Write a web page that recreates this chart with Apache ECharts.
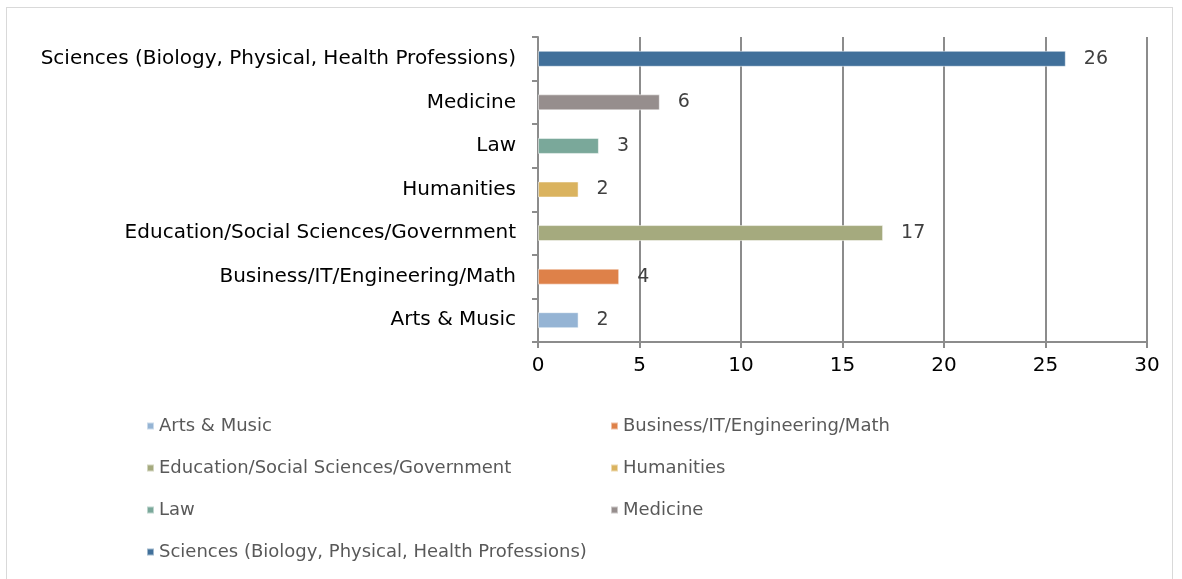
<!DOCTYPE html>
<html>
<head>
<meta charset="utf-8">
<script src="https://cdn.jsdelivr.net/npm/echarts@6/dist/echarts.min.js"></script>
<style>
  html, body { margin: 0; padding: 0; background: #fff; overflow: hidden; }
  #frame { position: absolute; left: 6px; top: 7px; width: 1165px; height: 620px; border: 1px solid #d9d9d9; }
  #chart { position: absolute; left: 0; top: 0; width: 1182px; height: 579px; }
</style>
</head>
<body>
<div id="frame"></div>
<div id="chart"></div>
<script>
// categories, bottom to top as drawn
const categories = [
  "Arts & Music",
  "Business/IT/Engineering/Math",
  "Education/Social Sciences/Government",
  "Humanities",
  "Law",
  "Medicine",
  "Sciences (Biology, Physical, Health Professions)"
];
const counts = [2, 4, 17, 2, 3, 6, 26];
const colors = ["#95B4D4", "#DE8149", "#A5AA7E", "#DAB35F", "#7AA89A", "#968E8D", "#41709A"];
const xTicks = [0, 5, 10, 15, 20, 25, 30];

const legendLeft = [categories[0], categories[2], categories[4], categories[6]];
const legendRight = [categories[1], categories[3], categories[5]];

const FONT = "'DejaVu Sans', sans-serif";

// one series per category so each gets its own legend entry
const series = categories.map((name, i) => ({
  name: name,
  type: "bar",
  stack: "all",
  barWidth: 16,
  itemStyle: { color: colors[i], borderColor: "rgba(255,255,255,0.5)", borderWidth: 1 },
  label: {
    show: true,
    position: "right",
    distance: 18,
    color: "#404040",
    fontSize: 19,
    fontFamily: FONT
  },
  data: categories.map((c, j) => (j === i ? counts[i] : "-"))
}));

const legendCommon = {
  orient: "vertical",
  icon: "rect",
  itemWidth: 7,
  itemHeight: 7,
  itemGap: 22,
  selectedMode: false,
  textStyle: { color: "#595959", fontSize: 18, lineHeight: 20, fontFamily: FONT }
};

const chart = echarts.init(document.getElementById("chart"));
chart.setOption({
  animation: false,
  textStyle: { fontFamily: FONT },
  grid: { left: 538, right: 35, top: 37, bottom: 237, containLabel: false },
  legend: [
    Object.assign({ left: 141, top: 411, data: legendLeft }, legendCommon),
    Object.assign({ left: 605, top: 411, data: legendRight }, legendCommon)
  ],
  xAxis: {
    type: "value",
    min: xTicks[0],
    max: xTicks[xTicks.length - 1],
    interval: 5,
    axisLine: { show: true, lineStyle: { color: "#8c8c8c", width: 2 } },
    axisTick: { show: true, length: 6, lineStyle: { color: "#8c8c8c", width: 2 } },
    axisLabel: { color: "#000", fontSize: 20, margin: 14, fontFamily: FONT },
    splitLine: { show: true, lineStyle: { color: "#8c8c8c", width: 2 } }
  },
  yAxis: {
    type: "category",
    data: categories,
    axisLine: { show: true, lineStyle: { color: "#8c8c8c", width: 2 } },
    axisTick: { show: true, length: 6, lineStyle: { color: "#8c8c8c", width: 2 } },
    axisLabel: { color: "#000", fontSize: 20, margin: 22, fontFamily: FONT }
  },
  series: series
});
</script>
</body>
</html>
